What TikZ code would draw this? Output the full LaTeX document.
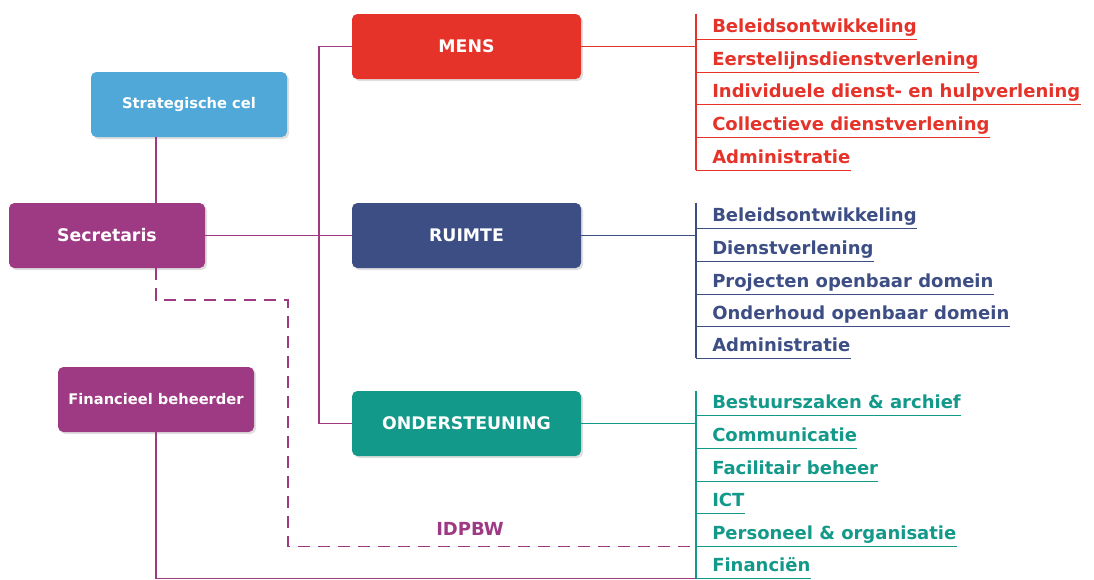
\documentclass[tikz,border=0pt]{standalone}
\usepackage{fontspec}
\setmainfont{DejaVu Sans}
\usetikzlibrary{shadows, positioning}
\definecolor{mensred}{HTML}{E5332A}
\definecolor{ruimteblue}{HTML}{3D4E85}
\definecolor{ondergreen}{HTML}{13998A}
\definecolor{secpurple}{HTML}{9E3A84}
\definecolor{stratblue}{HTML}{4FA8D8}
\tikzstyle{unit} = [rectangle, rounded corners=4pt, minimum width=171.75pt, minimum height=48.75pt, text=white, font=\bfseries\fontsize{13}{15}\selectfont, drop shadow={shadow xshift=1.5pt, shadow yshift=-1.5pt, opacity=0.25}]
\tikzstyle{staff} = [unit, minimum width=147pt]
\tikzstyle{task} = [anchor=base west, inner sep=0pt, text depth=5.25pt, font=\bfseries\fontsize{13.5}{16}\selectfont]
\tikzstyle{link} = [line width=1pt]

\begin{document}
\begin{tikzpicture}[x=0.75pt, y=-0.75pt]
                \useasboundingbox (0,0) rectangle (1094,579);
                \node (strat) [staff, fill=stratblue, font=\bfseries\fontsize{11}{13}\selectfont] at (189,104.5) {Strategische cel};
                \node (secr) [staff, fill=secpurple] at (107,235.5) {Secretaris};
                \node (fin) [staff, fill=secpurple, font=\bfseries\fontsize{11}{13}\selectfont] at (156,399.5) {Financieel beheerder};
                \node (mens) [unit, fill=mensred] at (466.5,46.5) {MENS};
                \node (ruimte) [unit, fill=ruimteblue] at (466.5,235.5) {RUIMTE};
                \node (onder) [unit, fill=ondergreen] at (466.5,423.5) {ONDERSTEUNING};
                \coordinate (brk) at (696,0);
                \coordinate (spine) at (319,0);

                % MENS
                \node (m1) [task, text=mensred] at (712,32) {Beleidsontwikkeling};
                \node (m2) [task, text=mensred] at (712,65) {Eerstelijnsdienstverlening};
                \node (m3) [task, text=mensred] at (712,97) {Individuele dienst- en hulpverlening};
                \node (m4) [task, text=mensred] at (712,130) {Collectieve dienstverlening};
                \node (m5) [task, text=mensred] at (712,163) {Administratie};
                % RUIMTE
                \node (r1) [task, text=ruimteblue] at (712,221) {Beleidsontwikkeling};
                \node (r2) [task, text=ruimteblue] at (712,254) {Dienstverlening};
                \node (r3) [task, text=ruimteblue] at (712,287) {Projecten openbaar domein};
                \node (r4) [task, text=ruimteblue] at (712,319) {Onderhoud openbaar domein};
                \node (r5) [task, text=ruimteblue] at (712,351) {Administratie};
                % ONDERSTEUNING
                \node (o1) [task, text=ondergreen] at (712,408) {Bestuurszaken \& archief};
                \node (o2) [task, text=ondergreen] at (712,441) {Communicatie};
                \node (o3) [task, text=ondergreen] at (712,474) {Facilitair beheer};
                \node (o4) [task, text=ondergreen] at (712,506) {ICT};
                \node (o5) [task, text=ondergreen] at (712,539) {Personeel \& organisatie};
                \node (o6) [task, text=ondergreen] at (712,571) {Financiën};

                \node (idpbw) [text=secpurple, font=\bfseries\fontsize{13.5}{16}\selectfont] at (470,529) {IDPBW};

                \draw [link, secpurple] (fin.center |- strat.south) -- (fin.center |- secr.north);
                \draw [link, secpurple] (secr.east) -- (ruimte.west);
                \draw [link, secpurple] (mens.west) -| (spine |- onder.west) -- (onder.west);
                \draw [link, secpurple, dash pattern=on 9pt off 6pt] (fin.center |- secr.south) |- (288,300) |- (brk |- o5.south);
                \draw [link, secpurple] (fin.south) |- (brk |- o6.south);

                \draw [link, mensred] (mens.east) -- (brk |- mens.east);
                \draw [link, mensred] (brk |- mens.north) -- (brk |- m5.south);
                \draw [link, mensred] (brk |- m1.south) -- (m1.south east);
                \draw [link, mensred] (brk |- m2.south) -- (m2.south east);
                \draw [link, mensred] (brk |- m3.south) -- (m3.south east);
                \draw [link, mensred] (brk |- m4.south) -- (m4.south east);
                \draw [link, mensred] (brk |- m5.south) -- (m5.south east);

                \draw [link, ruimteblue] (ruimte.east) -- (brk |- ruimte.east);
                \draw [link, ruimteblue] (brk |- ruimte.north) -- (brk |- r5.south);
                \draw [link, ruimteblue] (brk |- r1.south) -- (r1.south east);
                \draw [link, ruimteblue] (brk |- r2.south) -- (r2.south east);
                \draw [link, ruimteblue] (brk |- r3.south) -- (r3.south east);
                \draw [link, ruimteblue] (brk |- r4.south) -- (r4.south east);
                \draw [link, ruimteblue] (brk |- r5.south) -- (r5.south east);

                \draw [link, ondergreen] (onder.east) -- (brk |- onder.east);
                \draw [link, ondergreen] (brk |- onder.north) -- (brk |- o6.south);
                \draw [link, ondergreen] (brk |- o1.south) -- (o1.south east);
                \draw [link, ondergreen] (brk |- o2.south) -- (o2.south east);
                \draw [link, ondergreen] (brk |- o3.south) -- (o3.south east);
                \draw [link, ondergreen] (brk |- o4.south) -- (o4.south east);
                \draw [link, ondergreen] (brk |- o5.south) -- (o5.south east);
                \draw [link, ondergreen] (brk |- o6.south) -- (o6.south east);
            \end{tikzpicture}
\end{document}
